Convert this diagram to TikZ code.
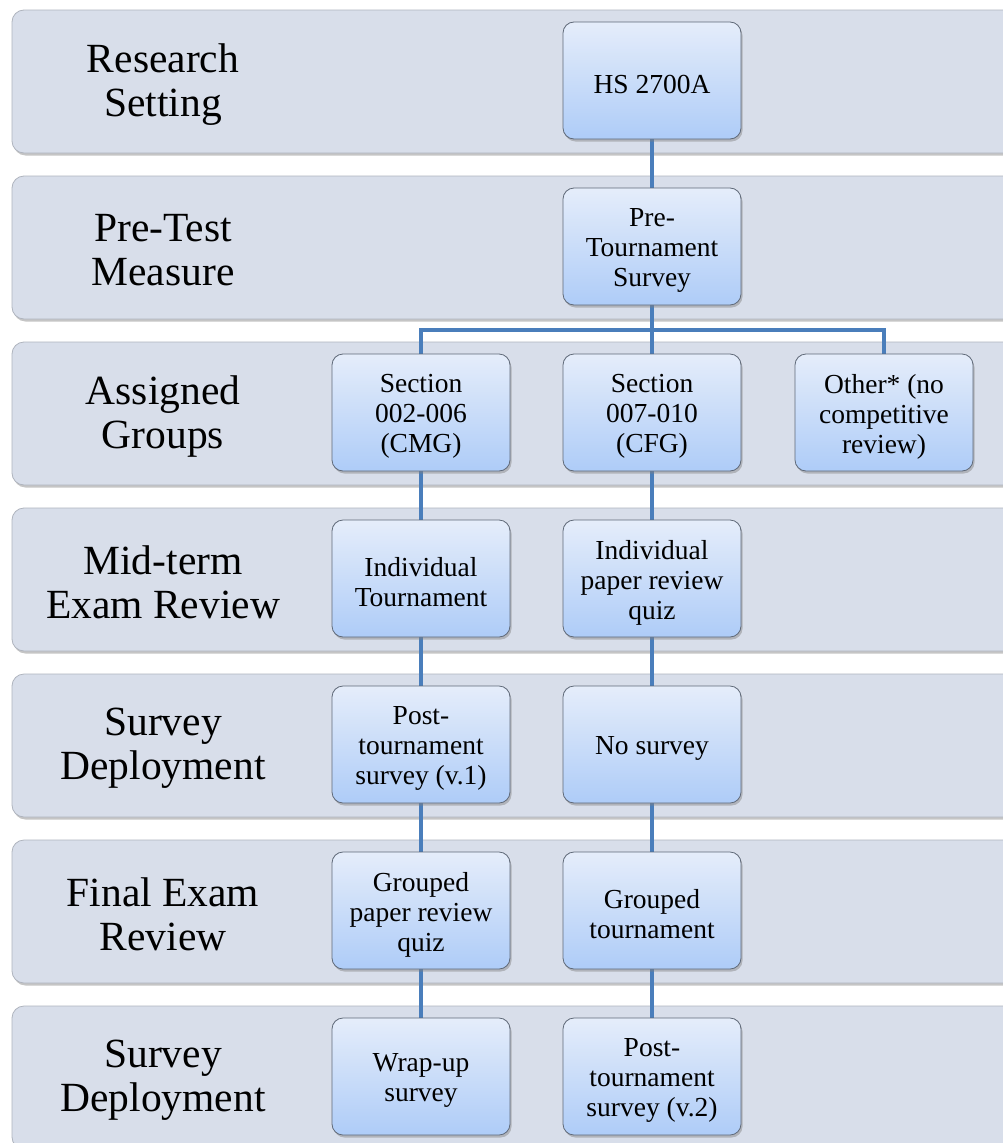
\documentclass[tikz,border=0pt]{standalone}
\usepackage{fontspec}
\setmainfont{Liberation Serif}
\usetikzlibrary{shadows}
\pgfdeclarelayer{bandlayer}
\pgfdeclarelayer{linklayer}
\pgfsetlayers{bandlayer,linklayer,main}
\definecolor{bandfill}{RGB}{216,222,234}
\definecolor{bandedge}{RGB}{175,180,190}
\definecolor{boxtop}{RGB}{229,237,250}
\definecolor{boxbot}{RGB}{174,204,248}
\definecolor{boxedge}{RGB}{95,105,120}
\definecolor{linkblue}{RGB}{74,126,187}
\tikzset{
  band/.style={draw=bandedge, line width=0.8pt, fill=bandfill, rounded corners=12pt,
    drop shadow={shadow xshift=1.5pt, shadow yshift=-2.5pt, opacity=0.45}},
  bandlabel/.style={align=center, font=\fontsize{41.5}{44}\selectfont, text=black},
  stepbox/.style={draw=boxedge, line width=0.8pt, rounded corners=11pt,
    top color=boxtop, bottom color=boxbot, minimum width=178pt, minimum height=117pt,
    inner sep=0pt,
    drop shadow={shadow xshift=1.5pt, shadow yshift=-2.5pt, opacity=0.45}},
  boxtext/.style={inner sep=0pt, align=center, font=\fontsize{27.5}{30}\selectfont, text=black},
  link/.style={draw=linkblue, line width=4pt}
}
\newcommand{\stepnode}[3]{%
  \node[stepbox] (#1) at (#2) {};
  \node[boxtext] (#1-t) at ([yshift=-4pt]#1.center) {#3};
}
\begin{document}
\begin{tikzpicture}[x=1pt,y=-1pt]
\useasboundingbox (0,0) rectangle (1003,1143);
\clip (0,0) rectangle (1003,1143);
\begin{pgfonlayer}{bandlayer}
\fill[white] (0,0) rectangle (1003,1143);
\foreach \t in {10,176,342,508,674,840,1006}{
  \path[band] (12,\t) rectangle (1030,\t+143);
}
\end{pgfonlayer}
% band labels
\node[bandlabel] (l1) at (163,84.5) {Research\\Setting};
\node[bandlabel] (l2) at (163,250.5) {Pre-Test\\Measure};
\node[bandlabel] (l3) at (163,416.5) {Assigned\\Groups};
\node[bandlabel] (l4) at (163,582.5) {Mid-term\\Exam Review};
\node[bandlabel] (l5) at (163,748.5) {Survey\\Deployment};
\node[bandlabel] (l6) at (163,914.5) {Final Exam\\Review};
\node[bandlabel] (l7) at (163,1080.5) {Survey\\Deployment};
% boxes
\stepnode{hs}{652,80.5}{HS 2700A}
\stepnode{pre}{652,246.5}{Pre-\\Tournament\\Survey}
\stepnode{sa}{421,412.5}{Section\\002-006\\(CMG)}
\stepnode{sb}{652,412.5}{Section\\007-010\\(CFG)}
\stepnode{oth}{884,412.5}{Other* (no\\competitive\\review)}
\stepnode{ma}{421,578.5}{Individual\\Tournament}
\stepnode{mb}{652,578.5}{Individual\\paper review\\quiz}
\stepnode{va}{421,744.5}{Post-\\tournament\\survey (v.1)}
\stepnode{vb}{652,744.5}{No survey}
\stepnode{fa}{421,910.5}{Grouped\\paper review\\quiz}
\stepnode{fb}{652,910.5}{Grouped\\tournament}
\stepnode{wa}{421,1076.5}{Wrap-up\\survey}
\stepnode{wb}{652,1076.5}{Post-\\tournament\\survey (v.2)}
% connectors
\coordinate (br) at (652,330);
\begin{pgfonlayer}{linklayer}
\path[link] (hs.south) -- (pre.north);
\path[link] (pre.south) -- (br);
\path[link] (sa.north) |- (br);
\path[link] (br) -| (oth.north);
\path[link] (br) -- (sb.north);
\path[link] (sa.south) -- (ma.north);
\path[link] (ma.south) -- (va.north);
\path[link] (va.south) -- (fa.north);
\path[link] (fa.south) -- (wa.north);
\path[link] (sb.south) -- (mb.north);
\path[link] (mb.south) -- (vb.north);
\path[link] (vb.south) -- (fb.north);
\path[link] (fb.south) -- (wb.north);
\end{pgfonlayer}
\end{tikzpicture}
\end{document}
